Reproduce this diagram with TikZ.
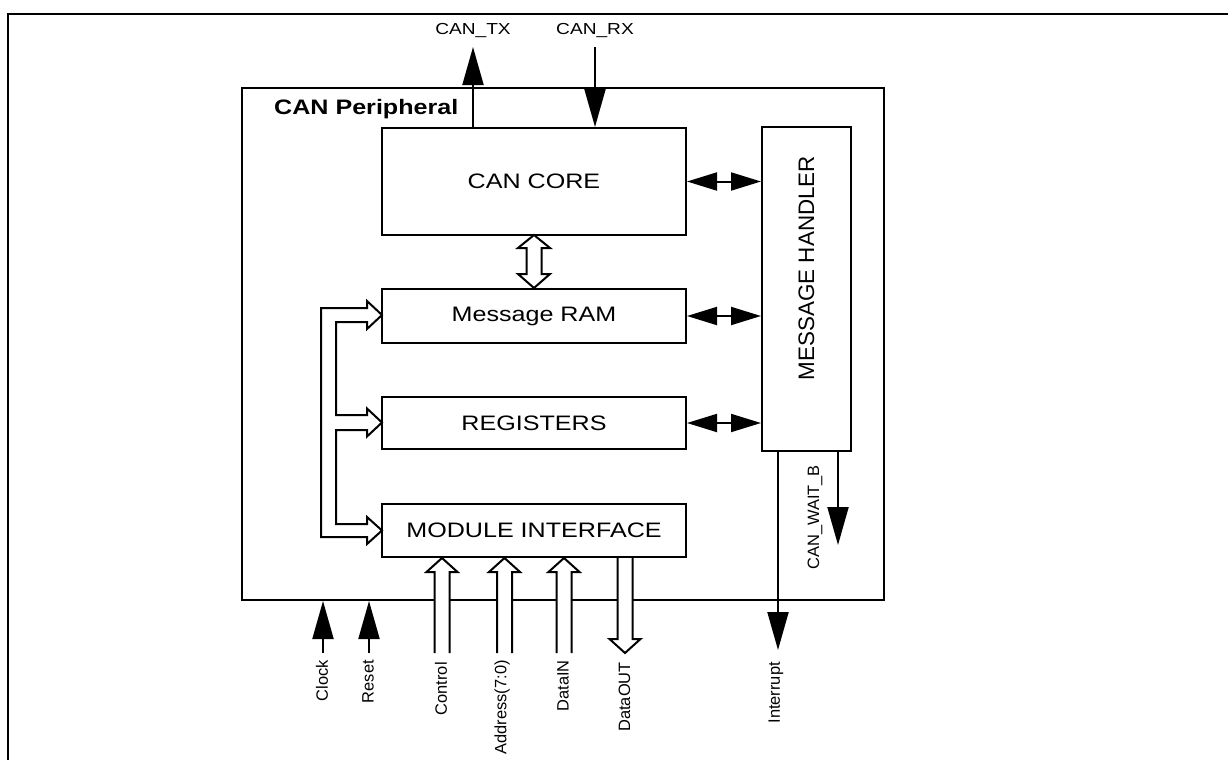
\documentclass[tikz,border=0pt]{standalone}
\usepackage{fontspec}
\setmainfont{Liberation Sans}[FakeStretch=1.2]
\newfontfamily\upfont{Liberation Sans}
\usetikzlibrary{arrows.meta}

\tikzset{
  blk/.style={draw, line width=2bp, inner sep=0pt, minimum width=304bp,
    font=\fontsize{21}{25}\selectfont},
  sig/.style={line width=2bp, -{Triangle[length=38bp,width=21bp]}},
  hs/.style={line width=2bp, {Triangle[length=30bp,width=18bp]}-{Triangle[length=30bp,width=18bp]}},
  bus/.style={line width=2bp, fill=white, line join=miter},
  lbl/.style={font=\fontsize{16}{19}\selectfont, inner sep=0pt},
  vlbl/.style={font=\upfont\fontsize{16.5}{19}\selectfont, rotate=90, anchor=east, inner sep=0pt},
}

% hollow bus arrow pointing up: x, tip y, bottom y
\newcommand{\busup}[3]{%
  \draw[bus] (#1-7.5,#3) -- (#1-7.5,#2+14) -- (#1-15.5,#2+14) -- (#1,#2)
    -- (#1+15.5,#2+14) -- (#1+7.5,#2+14) -- (#1+7.5,#3);}
% hollow bus arrow pointing down: x, top y, tip y
\newcommand{\busdown}[3]{%
  \draw[bus] (#1-7.5,#2) -- (#1-7.5,#3-14) -- (#1-15.5,#3-14) -- (#1,#3)
    -- (#1+15.5,#3-14) -- (#1+7.5,#3-14) -- (#1+7.5,#2);}

\begin{document}
\begin{tikzpicture}[x=1bp, y=-1bp]
    \useasboundingbox (0,0) rectangle (1228,760);
    % Frame
    \draw[line width=2bp] (1228,14) -- (8,14) -- (8,760);

    % Peripheral
    \node[draw, line width=2bp, minimum width=642bp, minimum height=512bp] (per) at (563,344) {};
    \node[anchor=base west, inner sep=0pt, font=\bfseries\fontsize{21}{25}\selectfont] (title) at (274,115) {CAN Peripheral};

    % Blocks
    \node[blk, minimum height=107bp] (core) at (534,181.5) {CAN CORE};
    \node[blk, minimum height=54bp] (ram) at (534,316) {Message RAM};
    \node[blk, minimum height=52bp] (regs) at (534,423) {REGISTERS};
    \node[blk, minimum height=53bp] (mif) at (534,530.5) {MODULE INTERFACE};
    \node[draw, line width=2bp, minimum width=89bp, minimum height=324bp] (mh) at (806.5,289) {};
    \node[rotate=90, inner sep=0pt, font=\upfont\fontsize{22.5}{26}\selectfont] (mhtext) at (806.5,268) {MESSAGE HANDLER};

    % Handler links
    \draw[hs] (core.east) -- (core.east -| mh.west);
    \draw[hs] (ram.east) -- (ram.east -| mh.west);
    \draw[hs] (regs.east) -- (regs.east -| mh.west);

    % CAN pins
    \node[lbl] (txl) at (473,31) {CAN\_TX};
    \node[lbl] (rxl) at (595,31) {CAN\_RX};
    \coordinate (txend) at (473,47);
    \coordinate (rxstart) at (595,47);
    \draw[sig] (core.north -| txend) -- (txend);
    \draw[sig] (rxstart) -- (rxstart |- core.north);

    % Core <-> RAM
    \draw[bus] (534,235) -- (550,248) -- (541.5,248) -- (541.5,274) -- (550,274) -- (534,288)
      -- (518,274) -- (526.5,274) -- (526.5,248) -- (518,248) -- cycle;

    % Internal bus
    \draw[bus] (367,308) -- (321,308) -- (321,537) -- (367,537) -- (367,544) -- (382,530.5)
      -- (367,517) -- (367,524) -- (336,524) -- (336,430) -- (367,430) -- (367,436.5)
      -- (382,422.5) -- (367,408.5) -- (367,415) -- (336,415) -- (336,322) -- (367,322)
      -- (367,329) -- (382,315) -- (367,301) -- cycle;

    % Clock and reset
    \node[vlbl] (clkl) at (322,660) {Clock};
    \node[vlbl] (rstl) at (368,660) {Reset};
    \coordinate (clk) at (323,653);
    \coordinate (rst) at (369,653);
    \draw[sig] (clk) -- (clk |- per.south);
    \draw[sig] (rst) -- (rst |- per.south);

    % Module interface buses
    \busup{442}{558}{653}
    \busup{504.5}{558}{653}
    \busup{564}{558}{653}
    \busdown{625}{558}{653}
    \node[vlbl] (ctll) at (441,662) {Control};
    \node[vlbl] (addrl) at (502,660) {Address(7:0)};
    \node[vlbl] (dinl) at (563,660) {DataIN};
    \node[vlbl] (doutl) at (624.5,662) {DataOUT};

    % Handler outputs
    \coordinate (int) at (778,650);
    \coordinate (wait) at (838,545);
    \draw[sig] (mh.south -| int) -- (int);
    \draw[sig] (mh.south -| wait) -- (wait);
    \node[vlbl] (intl) at (776,662) {Interrupt};
    \node[vlbl] (waitl) at (815,465) {CAN\_WAIT\_B};
\end{tikzpicture}
\end{document}
